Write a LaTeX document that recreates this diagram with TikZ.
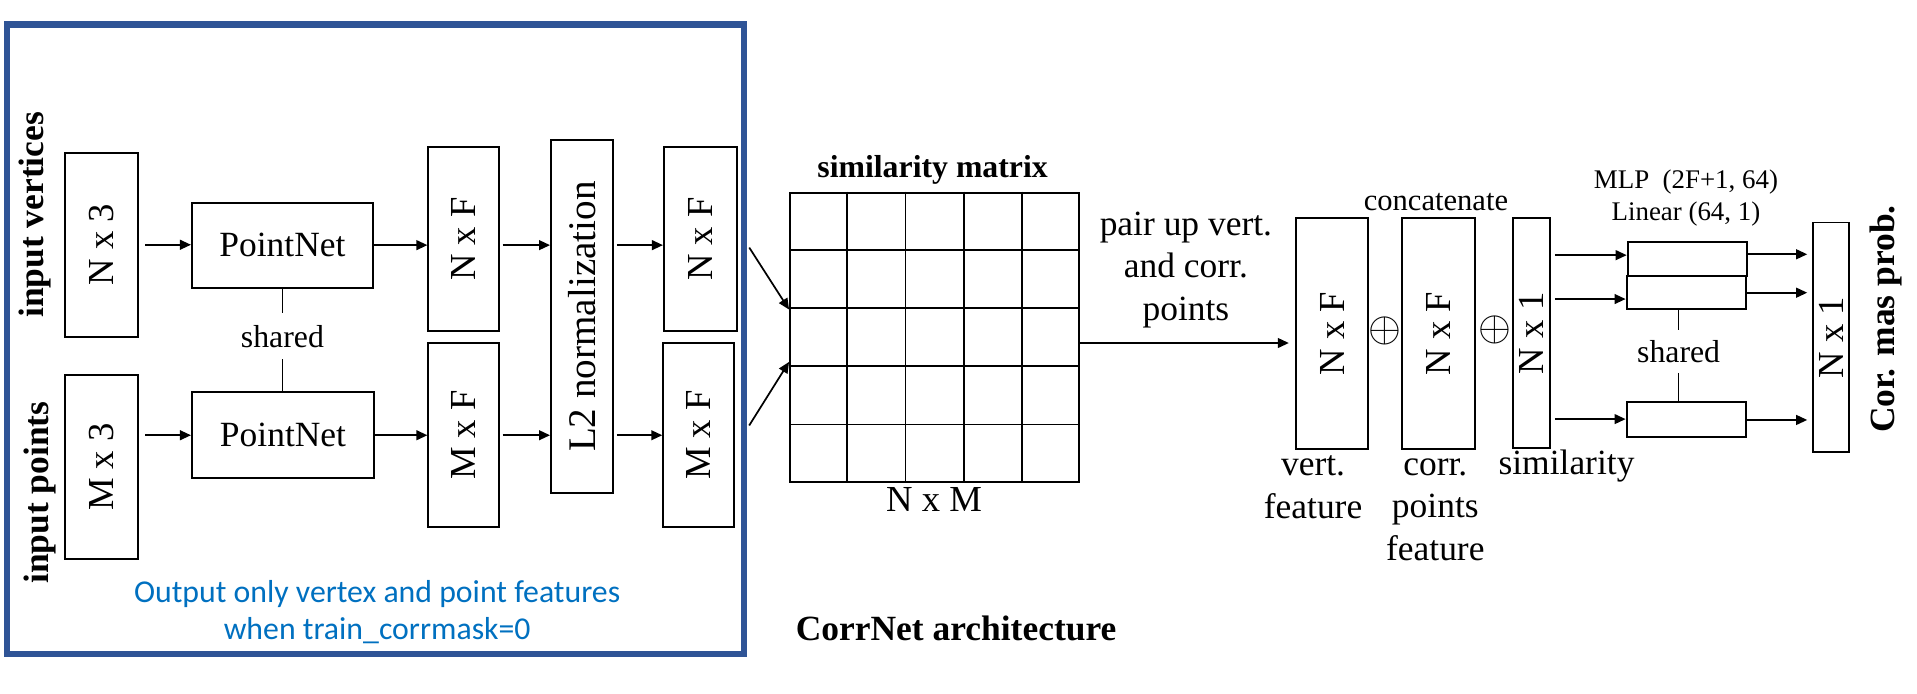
\documentclass[tikz,border=0pt]{standalone}
\usepackage{fontspec}
\setmainfont{Liberation Serif}
\newfontfamily\notefont{Carlito}
\usepackage{graphicx}
\usetikzlibrary{arrows.meta,calc,positioning}
\definecolor{FrameBlue}{RGB}{47,84,150}
\definecolor{NoteBlue}{RGB}{0,112,192}

\tikzset{
  blk/.style={draw, line width=0.8pt, inner sep=0pt, font=\fontsize{15}{18}\selectfont},
  arr/.style={-{Triangle[length=4.5pt,width=4pt]}, line width=0.7pt},
  tie/.style={line width=0.7pt},
  txt/.style={font=\fontsize{14.5}{17.5}\selectfont, inner sep=0pt},
  bold/.style={font=\fontsize{14.5}{17.5}\selectfont\bfseries, inner sep=0pt},
}
\newcommand{\vtxt}[1]{\rotatebox{90}{#1}}

\begin{document}
\begin{tikzpicture}[x=0.5pt, y=-0.5pt]
        \useasboundingbox (0,0) rectangle (1568,567);

        % left panel: two PointNet branches
        \draw[FrameBlue, line width=2.5pt] (6,20) rectangle (608.5,535);
        \node[bold, rotate=90] (iv) at (28.5,175.7) {input vertices};
        \node[bold, rotate=90] (ip) at (32.5,403) {input points};

        \node[blk, minimum width=30pt, minimum height=75.25pt] (nv3) at (83,200.2) {\vtxt{N x 3}};
        \node[blk, minimum width=30pt, minimum height=75.25pt] (mp3) at (83,382) {\vtxt{M x 3}};
        \node[blk, font=\fontsize{14.5}{17}\selectfont, minimum width=74pt, minimum height=34.75pt] (pn1) at (231,200.5) {PointNet};
        \node[blk, font=\fontsize{14.5}{17}\selectfont, minimum width=74.5pt, minimum height=35pt] (pn2) at (231.5,356) {PointNet};
        \node[txt, font=\fontsize{13}{15}\selectfont, inner ysep=4.6pt] (sh1) at (231,275) {shared};
        \node[blk, minimum width=29pt, minimum height=75pt] (nf1) at (379.4,195.5) {\vtxt{N x F}};
        \node[blk, minimum width=29pt, minimum height=75pt] (mf1) at (379.4,355.8) {\vtxt{M x F}};
        \node[blk, font=\fontsize{16}{18}\selectfont, minimum width=25.5pt, minimum height=144.5pt] (l2) at (476.2,259) {\vtxt{L2 normalization}};
        \node[blk, minimum width=29.75pt, minimum height=75pt] (nf2) at (572.8,195.5) {\vtxt{N x F}};
        \node[blk, minimum width=29pt, minimum height=75pt] (mf2) at (571.5,355.8) {\vtxt{M x F}};
        \node[font=\notefont\fontsize{13}{15.3}\selectfont, text=NoteBlue, align=center, inner sep=0pt, anchor=base] (note) at (308.5,523.1) {Output only vertex and point features\\when train\_corrmask=0};

        \draw[arr, shorten <=2.5pt] (nv3.east) -- (nv3.east -| pn1.west);
        \draw[arr] (pn1.east) -- (pn1.east -| nf1.west);
        \draw[arr, shorten <=1pt] (nf1.east |- pn1.east) -- (pn1.east -| l2.west);
        \draw[arr, shorten <=1pt] (l2.east |- pn1.east) -- (pn1.east -| nf2.west);
        \draw[arr, shorten <=2.5pt] (mp3.east |- pn2.west) -- (pn2.west);
        \draw[arr] (pn2.east) -- (pn2.east -| mf1.west);
        \draw[arr, shorten <=1pt] (mf1.east |- pn2.east) -- (pn2.east -| l2.west);
        \draw[arr, shorten <=1pt] (l2.east |- pn2.east) -- (pn2.east -| mf2.west);
        \draw[tie] (pn1.south) -- (sh1.north);
        \draw[tie] (sh1.south) -- (sh1.south |- pn2.north);

        % similarity matrix
        \node[draw, line width=0.8pt, inner sep=0pt, minimum width=118.3pt, minimum height=118.2pt] (simmat) at (764.5,275.8) {};
        \foreach \k in {1,...,4} {
          \draw[line width=0.75pt] ($(simmat.north west)!\k/5!(simmat.north east)$) -- ($(simmat.south west)!\k/5!(simmat.south east)$);
          \draw[line width=0.75pt] ($(simmat.north west)!\k/5!(simmat.south west)$) -- ($(simmat.north east)!\k/5!(simmat.south east)$);
        }
        \node[font=\fontsize{13}{15}\selectfont\bfseries, inner sep=0pt, anchor=base] (simt) at (762.8,145) {similarity matrix};
        \node[txt, font=\fontsize{15}{18}\selectfont, anchor=base] (nxm) at (764,418.5) {N x M};
        \coordinate (in1) at ($(simmat.north west)!0.405!(simmat.south west)$);
        \coordinate (in2) at ($(simmat.north west)!0.585!(simmat.south west)$);
        \draw[arr] ($(nf2.east |- pn1.east)+(9.5,2)$) -- (in1);
        \draw[arr] ($(mf2.east |- pn2.east)+(11.5,-8)$) -- (in2);

        % pairing and concatenation
        \node[blk, minimum width=29.6pt, minimum height=94.35pt] (vf) at (1089.6,273) {\vtxt{N x F}};
        \node[blk, minimum width=30pt, minimum height=94.35pt] (cf) at (1176.5,273) {\vtxt{N x F}};
        \node[blk, minimum width=15.3pt, minimum height=94.05pt] (sm) at (1252.5,272.7) {\vtxt{N x 1}};
        \coordinate (out1) at ($(simmat.north east)!0.52!(simmat.south east)$);
        \draw[arr, shorten >=2.5pt] (out1) -- (out1 -| vf.west);
        \node[txt, align=center, anchor=base] (pair) at (970,262.3) {pair up vert.\\and corr.\\points};
        \node[font=\fontsize{16}{16}\selectfont, inner sep=0pt] (pl1) at (1133,270.6) {$\oplus$};
        \node[font=\fontsize{16}{16}\selectfont, inner sep=0pt] (pl2) at (1222.8,270) {$\oplus$};
        \node[txt, font=\fontsize{12.5}{15}\selectfont, anchor=base] (cat) at (1174.5,171.8) {concatenate};
        \node[txt, align=center, anchor=base] (vfl) at (1074,424) {vert.\\feature};
        \node[txt, align=center, anchor=base] (cfl) at (1174,458.6) {corr.\\points\\feature};
        \node[txt, anchor=base] (sml) at (1281.3,388.5) {similarity};

        % shared MLP and output
        \node[blk, minimum width=48.65pt, minimum height=14pt] (m1) at (1380,211.7) {};
        \node[blk, minimum width=48.75pt, minimum height=13.65pt] (m2) at (1379.2,239.4) {};
        \node[blk, minimum width=48.75pt, minimum height=14.35pt] (m3) at (1379.2,342.8) {};
        \node[txt, font=\fontsize{11}{13}\selectfont, align=center, anchor=base] (mlp) at (1379,180.5) {MLP\ \ (2F+1, 64)\\Linear (64, 1)};
        \node[txt, font=\fontsize{13}{15}\selectfont, inner ysep=4pt] (sh2) at (1373,287.5) {shared};
        \draw[tie] (sh2.north |- m2.south) -- (sh2.north);
        \draw[tie] (sh2.south) -- (sh2.south |- m3.north);
        \node[blk, minimum width=14.8pt, minimum height=94pt] (op) at (1497.8,276) {\vtxt{N x 1}};
        \node[bold, rotate=90] (cmp) at (1542.5,261) {Cor. mas prob.};

        \coordinate (a1) at ($(m1.west)+(0,-3)$);
        \coordinate (a2) at ($(m2.west)+(0,5.2)$);
        \coordinate (a3) at (m3.west);
        \draw[arr, shorten <=1.6pt] (sm.east |- a1) -- (a1);
        \draw[arr, shorten <=1.6pt] (sm.east |- a2) -- (a2);
        \draw[arr, shorten <=1.6pt] (sm.east |- a3) -- (a3);
        \coordinate (b1) at ($(m1.east)+(0,-3.7)$);
        \coordinate (b2) at (m2.east);
        \coordinate (b3) at ($(m3.east)+(0,0.7)$);
        \draw[arr, shorten >=2pt] (b1) -- (b1 -| op.west);
        \draw[arr, shorten >=2pt] (b2) -- (b2 -| op.west);
        \draw[arr, shorten >=2pt] (b3) -- (b3 -| op.west);

        \node[bold, anchor=base] (arch) at (782,523.5) {CorrNet architecture};
\end{tikzpicture}
\end{document}
